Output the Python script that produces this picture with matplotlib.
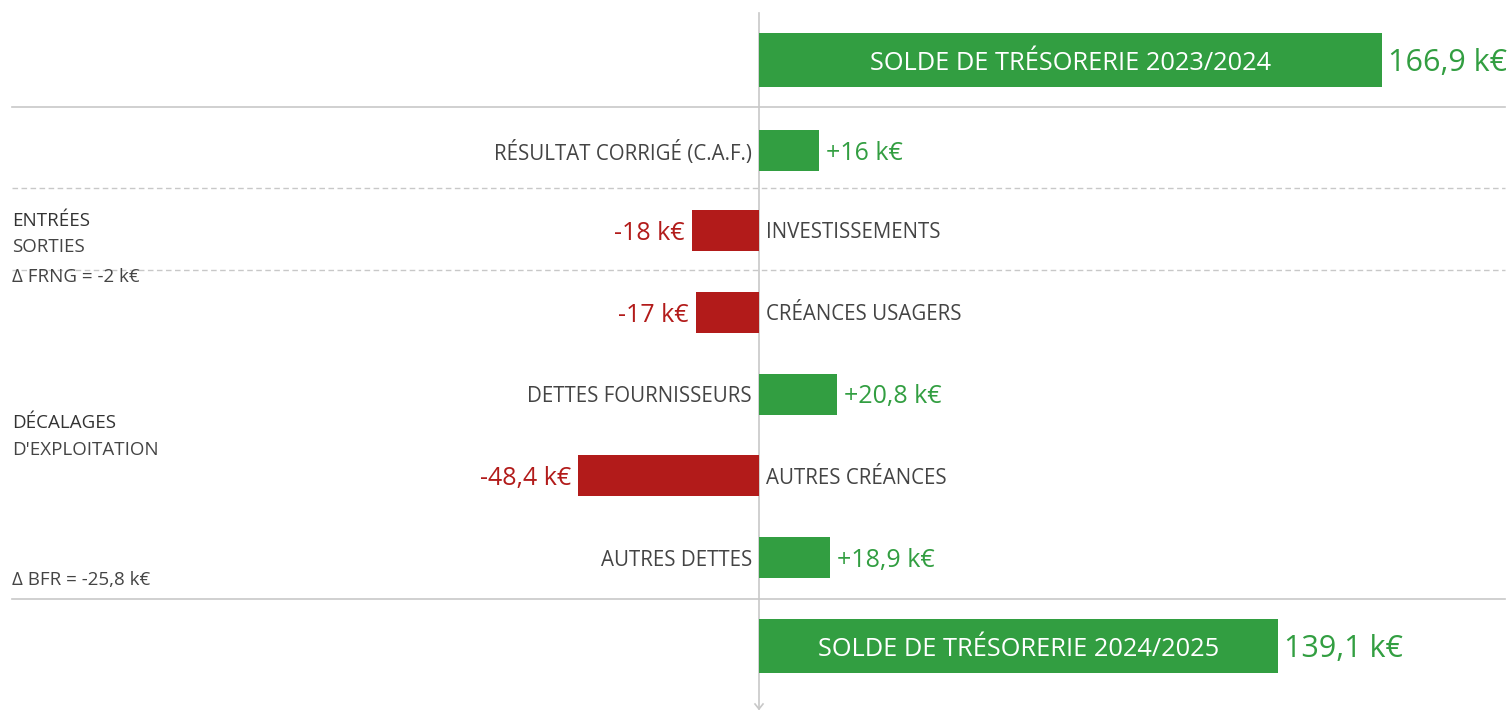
import matplotlib
matplotlib.use("Agg")
import matplotlib.pyplot as plt

# Données du tableau de flux (k€)
categories = [
    "RÉSULTAT CORRIGÉ (C.A.F.)",
    "INVESTISSEMENTS",
    "CRÉANCES USAGERS",
    "DETTES FOURNISSEURS",
    "AUTRES CRÉANCES",
    "AUTRES DETTES",
]
values = [16, -18, -17, 20.8, -48.4, 18.9]
value_labels = ["+16 k€", "-18 k€", "-17 k€", "+20,8 k€", "-48,4 k€", "+18,9 k€"]

totals_labels = ["SOLDE DE TRÉSORERIE 2023/2024", "SOLDE DE TRÉSORERIE 2024/2025"]
totals_values = [166.9, 139.1]
totals_value_labels = ["166,9 k€", "139,1 k€"]

side_notes = [
    ("ENTRÉES", 219, "#333333"),
    ("SORTIES", 245, "#444444"),
    ("Δ FRNG = -2 k€", 275, "#444444"),
    ("DÉCALAGES", 421, "#333333"),
    ("D'EXPLOITATION", 448, "#444444"),
    ("Δ BFR = -25,8 k€", 578, "#444444"),
]

GREEN = "#329e41"
RED = "#b21b1a"
GREY_TXT = "#444444"
LINE = "#c8c8c8"
FONT = "Open Sans"

W, H = 1511, 713
X0 = 759            # pixel de l'axe zéro
PX_PER_K = 3.733    # échelle horizontale

row_y = [150, 230, 312, 394, 475, 557]
total_y = [60, 646]

fig = plt.figure(figsize=(W / 100, H / 100), dpi=100)
ax = fig.add_axes([0, 0, 1, 1])
ax.set_xlim(-X0 / PX_PER_K, (W - X0) / PX_PER_K)
ax.set_ylim(H, 0)
ax.axis("off")

px = lambda p: (p - X0) / PX_PER_K  # pixel -> k€
xmin, xmax = 12 / W, 1505 / W

# séparateurs
for y in (107, 599):
    ax.axhline(y, xmin=xmin, xmax=xmax, color=LINE, lw=1.2, zorder=1)
for y in (188, 270):
    ax.axhline(y, xmin=xmin, xmax=xmax, color=LINE, lw=1.0, ls=(0, (4, 2.5)), zorder=1)

# axe vertical avec flèche
ax.plot([0, 0], [13, 709], color=LINE, lw=1.2, zorder=1)
ax.plot([px(X0 - 4), 0, px(X0 + 4)], [704, 709, 704], color=LINE, lw=1.2, zorder=1)

# soldes
for lab, v, vlab, y in zip(totals_labels, totals_values, totals_value_labels, total_y):
    ax.barh(y, v, height=54, left=0, color=GREEN, zorder=2)
    ax.text(v / 2, y + 3, lab, color="white", fontsize=18.3, family=FONT,
            ha="center", va="center", zorder=3)
    ax.text(v + 6 / PX_PER_K, y + 3, vlab, color=GREEN, fontsize=22, family=FONT,
            ha="left", va="center", zorder=3)

# variations
off = 7 / PX_PER_K
for lab, v, vlab, y in zip(categories, values, value_labels, row_y):
    col = GREEN if v > 0 else RED
    ax.barh(y, v, height=41, left=0, color=col, zorder=2)
    if v > 0:
        ax.text(-off, y + 3, lab, color=GREY_TXT, fontsize=14.8, family=FONT,
                ha="right", va="center")
        ax.text(v + off, y + 3, vlab, color=col, fontsize=18, family=FONT,
                ha="left", va="center")
    else:
        ax.text(off, y + 3, lab, color=GREY_TXT, fontsize=14.8, family=FONT,
                ha="left", va="center")
        ax.text(v - off, y + 3, vlab, color=col, fontsize=18, family=FONT,
                ha="right", va="center")

for txt, y, c in side_notes:
    ax.text(px(12), y + 2, txt, color=c, fontsize=13.5, family=FONT, ha="left", va="center")

fig.savefig("out.png", dpi=100)
